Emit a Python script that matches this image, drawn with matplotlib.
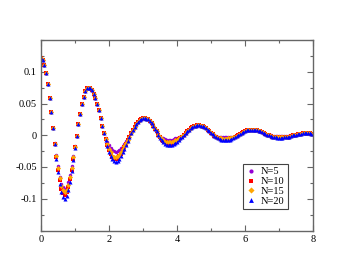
import numpy as np
import matplotlib
matplotlib.use("Agg")
import matplotlib.pyplot as plt
from matplotlib.ticker import MultipleLocator, FixedLocator

# x grid of the sampled points
x = np.round(np.arange(0, 161) * 0.05, 2)

# values in units of 1e-3, rows of 10 points (0.5 in x)
n5 = [122, 119, 111, 98, 80, 59, 36, 11, -12, -31,
      -49, -65, -76, -82, -85, -82, -74, -62, -48, -33,
      -17, -1, 17, 34, 49, 61, 70, 74, 75, 74,
      71, 65, 58, 49, 39, 27, 15, 3, -4, -11,
      -16, -20, -24, -25, -26, -25, -23, -20, -17, -13,
      -9, -6, -2, 3, 8, 13, 17, 21, 24, 26,
      27, 27, 26, 25, 22, 19, 15, 10, 6, 1,
      -2, -4, -5, -6, -7, -7, -7, -7, -6, -5,
      -4, -3, -2, -1, 1, 4, 7, 9, 11, 13,
      14, 15, 16, 16, 15, 14, 13, 11, 9, 6,
      4, 2, 0, -1, -2, -2, -3, -3, -3, -3,
      -3, -3, -2, -2, -1, 0, 0, 2, 4, 5,
      6, 8, 8, 9, 9, 9, 8, 8, 7, 6,
      5, 4, 2, 1, 0, 0, -1, -1, -1, -1,
      -1, -1, -1, -1, -1, -1, -1, 0, 0, 0,
      1, 2, 2, 2, 3, 3, 3, 3, 3, 2,
      2]

n10 = [122, 119, 111, 98, 80, 59, 36, 11, -13, -35,
       -55, -71, -84, -91, -94, -90, -82, -69, -54, -37,
       -19, -1, 17, 34, 49, 61, 70, 74, 75, 74,
       71, 65, 58, 49, 39, 27, 15, 3, -6, -15,
       -23, -30, -34, -37, -38, -36, -33, -29, -24, -19,
       -14, -8, -3, 3, 8, 13, 17, 21, 24, 26,
       27, 27, 26, 25, 22, 19, 15, 10, 6, 1,
       -3, -7, -9, -11, -12, -13, -13, -12, -11, -10,
       -8, -6, -4, -2, 1, 4, 7, 9, 11, 13,
       14, 15, 16, 16, 15, 14, 13, 11, 9, 6,
       4, 2, -1, -3, -4, -5, -6, -7, -7, -7,
       -6, -6, -5, -4, -3, -1, 0, 2, 4, 5,
       6, 8, 8, 9, 9, 9, 8, 8, 7, 6,
       5, 4, 2, 1, 0, -1, -2, -3, -3, -3,
       -3, -3, -3, -3, -3, -2, -2, -1, 0, 0,
       1, 2, 2, 2, 3, 3, 3, 3, 3, 2,
       2]

n15 = [122, 119, 111, 98, 80, 59, 36, 11, -13, -33,
       -52, -68, -80, -87, -90, -86, -78, -66, -51, -35,
       -18, -1, 17, 34, 49, 61, 70, 74, 75, 74,
       71, 65, 58, 49, 39, 27, 15, 3, -6, -14,
       -22, -27, -32, -34, -35, -33, -31, -27, -22, -17,
       -12, -7, -2, 3, 8, 13, 17, 21, 24, 26,
       27, 27, 26, 25, 22, 19, 15, 10, 6, 1,
       -3, -6, -8, -10, -11, -11, -11, -11, -10, -8,
       -7, -5, -4, -1, 1, 4, 7, 9, 11, 13,
       14, 15, 16, 16, 15, 14, 13, 11, 9, 6,
       4, 2, -1, -2, -4, -5, -5, -6, -6, -6,
       -5, -5, -5, -3, -2, -1, 0, 2, 4, 5,
       6, 8, 8, 9, 9, 9, 8, 8, 7, 6,
       5, 4, 2, 1, 0, -1, -2, -2, -2, -3,
       -3, -3, -3, -2, -2, -2, -2, -1, 0, 0,
       1, 2, 2, 2, 3, 3, 3, 3, 3, 2,
       2]

n20 = [122, 119, 111, 98, 80, 59, 36, 11, -14, -37,
       -58, -76, -89, -97, -100, -96, -87, -73, -57, -39,
       -20, -1, 17, 34, 49, 61, 70, 74, 75, 74,
       71, 65, 58, 49, 39, 27, 15, 3, -7, -17,
       -26, -33, -38, -41, -42, -40, -37, -32, -27, -21,
       -15, -9, -3, 3, 8, 13, 17, 21, 24, 26,
       27, 27, 26, 25, 22, 19, 15, 10, 6, 1,
       -4, -8, -11, -14, -15, -16, -16, -15, -14, -12,
       -10, -7, -5, -2, 1, 4, 7, 9, 11, 13,
       14, 15, 16, 16, 15, 14, 13, 11, 9, 6,
       4, 2, -1, -3, -5, -6, -7, -8, -8, -8,
       -7, -7, -6, -4, -3, -1, 0, 2, 4, 5,
       6, 8, 8, 9, 9, 9, 8, 8, 7, 6,
       5, 4, 2, 1, 0, -1, -2, -3, -3, -4,
       -4, -4, -4, -3, -3, -2, -2, -1, 0, 0,
       1, 2, 2, 2, 3, 3, 3, 3, 3, 2,
       2]

labels = ["N=5", "N=10", "N=15", "N=20"]
series = [n5, n10, n15, n20]
colors = ["#9400d3", "#ff0000", "#ffa500", "#0000ff"]
markers = ["o", "s", "D", "^"]
sizes = [2.5, 2.4, 2.6, 2.9]

xticks = [0, 2, 4, 6, 8]
yticks = [-0.1, -0.05, 0, 0.05, 0.1]
ytick_labels = ["-0.1", "-0.05", "0", "0.05", "0.1"]

plt.rcParams["font.family"] = ["Liberation Serif", "DejaVu Serif"]

fig = plt.figure(figsize=(3.52, 2.72), dpi=100)
ax = fig.add_axes([41 / 352, 1 - 230.5 / 272, 272 / 352, 190.5 / 272])

for ys, lab, c, m, s in zip(series, labels, colors, markers, sizes):
    ax.plot(x, np.array(ys) / 1000, linestyle="none", marker=m, markersize=s,
            color=c, markeredgewidth=0, label=lab)

ax.set_xlim(0, 8)
ax.set_ylim(-0.15, 0.15)
ax.xaxis.set_major_locator(FixedLocator(xticks))
ax.xaxis.set_minor_locator(MultipleLocator(1))
ax.set_xticklabels([str(v) for v in xticks])
ax.yaxis.set_major_locator(FixedLocator(yticks))
ax.yaxis.set_minor_locator(MultipleLocator(0.025))
ax.set_yticklabels(ytick_labels)

ax.tick_params(which="both", direction="in", top=True, right=True,
               labelsize=7.5, color="#666666", width=0.8, pad=3)
ax.tick_params(which="major", length=4)
ax.tick_params(which="minor", length=2)
for sp in ax.spines.values():
    sp.set_color("#666666")
    sp.set_linewidth(1.0)

leg = ax.legend(loc="upper left", bbox_to_anchor=(0.743, 0.349), borderaxespad=0,
                fontsize=7.5, fancybox=False, framealpha=1, edgecolor="#444444",
                handlelength=1.0, handletextpad=0.4, labelspacing=0.05,
                borderpad=0.3, markerscale=1.2)
leg.get_frame().set_linewidth(0.8)

fig.savefig("out.png", dpi=100)
